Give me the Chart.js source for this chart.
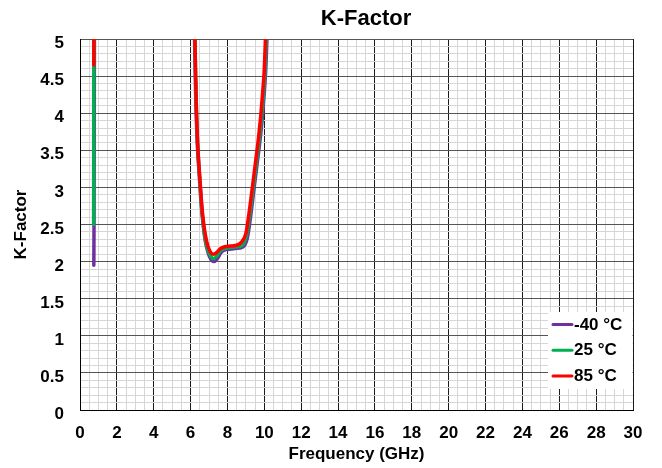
<!DOCTYPE html>
<html>
<head>
<meta charset="utf-8">
<script src="https://cdn.jsdelivr.net/npm/chart.js@4/dist/chart.umd.min.js"></script>
<style>
  html, body { margin: 0; padding: 0; background: #fff; }
  canvas { display: block; }
</style>
</head>
<body>
<canvas id="c" width="662" height="468"></canvas>
<script>
// ---- Data ----
const seriesLabels = ['-40 °C', '25 °C', '85 °C'];
const seriesColors = ['#7030A0', '#00B050', '#FF0000'];

const freqM40 = [0.75, 0.76, 0.77, 0.78, 0.79,
  6.18, 6.23, 6.28, 6.36, 6.47, 6.57, 6.67, 6.8, 6.95, 7.1, 7.28, 7.45, 7.65, 7.9, 8.2, 8.5, 8.85, 9.08, 9.23, 9.41, 9.58, 9.74, 9.88, 9.98, 10.08, 10.14, 10.2];
const kM40 = [1.95, 2.45, 3.5, 4.8, 5.6,
  5.4, 4.8, 4.2, 3.6, 3.16, 2.78, 2.52, 2.27, 2.12, 2.03, 2.0, 2.04, 2.12, 2.16, 2.17, 2.18, 2.2, 2.32, 2.56, 2.92, 3.26, 3.58, 3.91, 4.22, 4.6, 5.0, 5.4];

const freq25 = [0.74, 0.745, 0.75, 0.76,
  6.2, 6.25, 6.3, 6.38, 6.48, 6.58, 6.67, 6.8, 6.95, 7.1, 7.25, 7.4, 7.6, 7.85, 8.15, 8.5, 8.8, 9.04, 9.19, 9.37, 9.54, 9.7, 9.84, 9.94, 10.04, 10.1, 10.16];
const k25 = [2.5, 3.5, 4.7, 5.6,
  5.4, 4.8, 4.2, 3.6, 3.18, 2.8, 2.55, 2.3, 2.15, 2.07, 2.04, 2.07, 2.14, 2.18, 2.19, 2.2, 2.22, 2.36, 2.6, 2.94, 3.28, 3.6, 3.93, 4.23, 4.6, 5.0, 5.4];

const freq85 = [0.75, 0.76,
  6.2, 6.25, 6.3, 6.38, 6.48, 6.58, 6.66, 6.8, 6.95, 7.1, 7.25, 7.4, 7.6, 7.85, 8.15, 8.5, 8.75, 9.0, 9.15, 9.33, 9.5, 9.66, 9.8, 9.9, 10.0, 10.06, 10.12];
const k85 = [4.65, 5.6,
  5.4, 4.8, 4.2, 3.6, 3.2, 2.85, 2.62, 2.36, 2.2, 2.12, 2.1, 2.12, 2.17, 2.2, 2.21, 2.22, 2.26, 2.38, 2.62, 2.96, 3.3, 3.62, 3.95, 4.25, 4.6, 5.0, 5.4];

const xTickLabels = ['0','2','4','6','8','10','12','14','16','18','20','22','24','26','28','30'];
const yTickLabels = ['0','0.5','1','1.5','2','2.5','3','3.5','4','4.5','5'];

const chartTitle = 'K-Factor';
const xTitle = 'Frequency (GHz)';
const yTitle = 'K-Factor';

// ---- Build ----
const toPts = (xs, ys) => xs.map((x, i) => ({ x: x, y: ys[i] }));
const seriesData = [toPts(freqM40, kM40), toPts(freq25, k25), toPts(freq85, k85)];

const FONT = "'Liberation Sans', Arial, sans-serif";
const xMajorVals = xTickLabels.map(Number);
const yMajorVals = yTickLabels.map(Number);
const near = (v, arr) => arr.some(a => Math.abs(a - v) < 1e-6);

const titlePlugin = {
  id: 'offsetTitle',
  afterDraw(chart) {
    const ctx = chart.ctx;
    ctx.save();
    ctx.fillStyle = '#000';
    ctx.font = "bold 22px " + FONT;
    ctx.textAlign = 'center';
    ctx.textBaseline = 'middle';
    ctx.fillText(chartTitle, 366, 18.5);
    ctx.restore();
  }
};

const legendPlugin = {
  id: 'boxLegend',
  afterDraw(chart) {
    const ctx = chart.ctx;
    const ca = chart.chartArea;
    const x0 = 548, y0 = 312, w = ca.right - 548 - 0.5, h = 77;
    ctx.save();
    ctx.fillStyle = '#ffffff';
    ctx.fillRect(x0, y0, w, h);
    chart.data.datasets.forEach((ds, i) => {
      const cy = 324.5 + i * 25.7;
      ctx.strokeStyle = ds.borderColor;
      ctx.lineWidth = 3;
      ctx.lineCap = 'round';
      ctx.beginPath();
      ctx.moveTo(553, cy);
      ctx.lineTo(572, cy);
      ctx.stroke();
      ctx.fillStyle = '#000';
      ctx.font = "bold 17px " + FONT;
      ctx.textAlign = 'left';
      ctx.textBaseline = 'middle';
      ctx.fillText(ds.label, 574, cy + 0.5);
    });
    ctx.restore();
  }
};

new Chart(document.getElementById('c'), {
  type: 'line',
  data: {
    datasets: seriesData.map((d, i) => ({
      label: seriesLabels[i],
      data: d,
      order: 3 - i,
      borderColor: seriesColors[i],
      backgroundColor: seriesColors[i],
      borderWidth: 3.5,
      pointRadius: 0,
      fill: false,
      cubicInterpolationMode: 'monotone',
      borderCapStyle: 'round',
      borderJoinStyle: 'round'
    }))
  },
  options: {
    responsive: false,
    animation: false,
    devicePixelRatio: 1,
    layout: { padding: { left: 0, right: 29, top: 39, bottom: 0 } },
    plugins: {
      legend: { display: false },
      tooltip: { enabled: false },
      title: { display: false }
    },
    scales: {
      x: {
        type: 'linear',
        min: 0, max: 30,
        afterBuildTicks: (axis) => {
          const t = [];
          for (let i = 0; i <= 60; i++) t.push({ value: i / 2 });
          axis.ticks = t;
        },
        afterFit: (axis) => { axis.height = 58; },
        ticks: {
          autoSkip: false,
          maxRotation: 0,
          padding: 13.5,
          color: '#000',
          font: { family: FONT, size: 17, weight: 'bold' },
          callback: (v) => {
            const idx = xMajorVals.findIndex(a => Math.abs(a - v) < 1e-6);
            return idx >= 0 ? xTickLabels[idx] : '';
          }
        },
        grid: {
          drawTicks: false,
          color: (c) => near(c.tick.value, xMajorVals) ? '#1a1a1a' : '#d6d6d6',
          lineWidth: 1
        },
        border: { display: true, color: '#000', width: 1 },
        title: {
          display: true,
          text: xTitle,
          color: '#000',
          font: { family: FONT, size: 17, weight: 'bold' },
          padding: { top: 3, bottom: 3 }
        }
      },
      y: {
        type: 'linear',
        min: 0, max: 5,
        afterBuildTicks: (axis) => {
          const t = [];
          for (let i = 0; i <= 50; i++) t.push({ value: i / 10 });
          axis.ticks = t;
        },
        afterFit: (axis) => { axis.width = 80; },
        ticks: {
          autoSkip: false,
          padding: 16,
          labelOffset: 4.5,
          color: '#000',
          font: { family: FONT, size: 17, weight: 'bold' },
          callback: (v) => {
            const idx = yMajorVals.findIndex(a => Math.abs(a - v) < 1e-6);
            return idx >= 0 ? yTickLabels[idx] : '';
          }
        },
        grid: {
          drawTicks: false,
          color: (c) => near(c.tick.value, yMajorVals) ? '#555555' : '#d6d6d6',
          lineWidth: 1
        },
        border: { display: true, color: '#000', width: 1 },
        title: {
          display: true,
          text: yTitle,
          color: '#000',
          font: { family: FONT, size: 17, weight: 'bold' },
          padding: { top: 11, bottom: 11 }
        }
      }
    }
  },
  plugins: [titlePlugin, legendPlugin]
});
</script>
</body>
</html>
